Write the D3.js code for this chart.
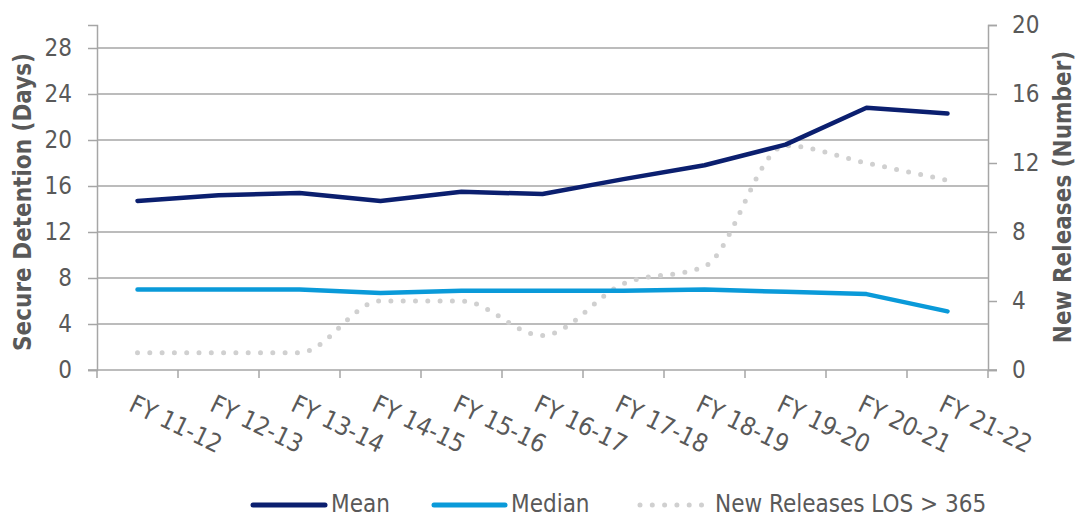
<!DOCTYPE html>
<html>
<head>
<meta charset="utf-8">
<script src="https://cdn.jsdelivr.net/npm/d3@7"></script>
<style>
  body { margin: 0; background: #fff; }
  svg text { font-family: "DejaVu Sans Condensed", "DejaVu Sans", sans-serif; font-stretch: condensed; fill: #595959; }
</style>
</head>
<body>
<svg id="chart" width="1078" height="517"></svg>
<script>
// fiscal years on the x axis
const categories = ["FY 11-12", "FY 12-13", "FY 13-14", "FY 14-15", "FY 15-16", "FY 16-17",
                    "FY 17-18", "FY 18-19", "FY 19-20", "FY 20-21", "FY 21-22"];
// secure detention length of stay (days), left axis
const meanDays = [14.7, 15.2, 15.4, 14.7, 15.5, 15.3, 16.6, 17.8, 19.6, 22.8, 22.3];
const medianDays = [7.0, 7.0, 7.0, 6.7, 6.9, 6.9, 6.9, 7.0, 6.8, 6.6, 5.1];
// new releases with LOS > 365 (number), right axis
const newReleases = [1, 1, 1, 4, 4, 2, 5, 6, 13, 12, 11];

const leftTicks = [0, 4, 8, 12, 16, 20, 24, 28];
const rightTicks = [0, 4, 8, 12, 16, 20];
const seriesNames = ["Mean", "Median", "New Releases LOS > 365"];

const svg = d3.select("#chart");
const plot = { left: 97, right: 988, top: 25, bottom: 370 };
const gridColor = "#a6a6a6";
const colors = { mean: "#0b1f6f", median: "#0a9ad9", releases: "#d0d0d0" };

const x = d3.scaleBand()
    .domain(categories)
    .range([plot.left, plot.right]);

const yLeft = d3.scaleLinear().domain([0, 30]).range([plot.bottom, plot.top]);
const yRight = d3.scaleLinear().domain([0, 20]).range([plot.bottom, plot.top]);

// horizontal gridlines
svg.append("g")
    .selectAll("line")
    .data(leftTicks.filter(d => d > 0))
    .enter().append("line")
    .attr("x1", plot.left).attr("x2", plot.right)
    .attr("y1", d => yLeft(d)).attr("y2", d => yLeft(d))
    .attr("stroke", gridColor)
    .attr("stroke-width", 1.5);

// left axis
const leftAxis = svg.append("g")
    .attr("transform", `translate(${plot.left},0)`)
    .call(d3.axisLeft(yLeft).tickValues(leftTicks).tickSize(9).tickPadding(16));

// right axis
const rightAxis = svg.append("g")
    .attr("transform", `translate(${plot.right},0)`)
    .call(d3.axisRight(yRight).tickValues(rightTicks).tickSize(9).tickPadding(15));

[leftAxis, rightAxis].forEach(g => {
    g.select(".domain").attr("stroke", gridColor).attr("stroke-width", 1.5);
    g.selectAll(".tick line").attr("stroke", gridColor).attr("stroke-width", 1.5);
    g.selectAll(".tick text")
        .style("font-size", "24px")
        .attr("fill", "#595959");
});

// x axis baseline with ticks between categories
const boundaries = categories.map(c => x(c)).concat([plot.right]);
svg.append("line")
    .attr("x1", plot.left - 9).attr("x2", plot.right + 9)
    .attr("y1", plot.bottom).attr("y2", plot.bottom)
    .attr("stroke", gridColor).attr("stroke-width", 1.5);
svg.append("g")
    .selectAll("line")
    .data(boundaries)
    .enter().append("line")
    .attr("x1", d => d).attr("x2", d => d)
    .attr("y1", plot.bottom).attr("y2", plot.bottom + 8)
    .attr("stroke", gridColor).attr("stroke-width", 1.5);

// rotated category labels
svg.append("g")
    .selectAll("text")
    .data(categories)
    .enter().append("text")
    .attr("transform", d => `translate(${x(d) + x.bandwidth() / 2 - 10},${plot.bottom + 40}) rotate(26)`)
    .attr("text-anchor", "start")
    .style("font-size", "25px")
    .text(d => d);

// axis titles
svg.append("text")
    .attr("transform", "translate(31,202) rotate(-90)")
    .attr("text-anchor", "middle")
    .style("font-size", "24px")
    .style("font-weight", "bold")
    .text("Secure Detention (Days)");

svg.append("text")
    .attr("transform", "translate(1071,197) rotate(-90)")
    .attr("text-anchor", "middle")
    .style("font-size", "24px")
    .style("font-weight", "bold")
    .text("New Releases (Number)");

const cx = d => x(d) + x.bandwidth() / 2;

// new releases (smoothed dotted line, right axis)
const releaseLine = d3.line()
    .x((d, i) => cx(categories[i]))
    .y(d => yRight(d))
    .curve(d3.curveMonotoneX);

svg.append("path")
    .datum(newReleases)
    .attr("d", releaseLine)
    .attr("fill", "none")
    .attr("stroke", colors.releases)
    .attr("stroke-width", 5)
    .attr("stroke-linecap", "round")
    .attr("stroke-dasharray", "0 12.3");

const leftLine = d3.line()
    .x((d, i) => cx(categories[i]))
    .y(d => yLeft(d));

svg.append("path")
    .datum(medianDays)
    .attr("d", leftLine)
    .attr("fill", "none")
    .attr("stroke", colors.median)
    .attr("stroke-width", 4.5)
    .attr("stroke-linecap", "round")
    .attr("stroke-linejoin", "round");

svg.append("path")
    .datum(meanDays)
    .attr("d", leftLine)
    .attr("fill", "none")
    .attr("stroke", colors.mean)
    .attr("stroke-width", 4.5)
    .attr("stroke-linecap", "round")
    .attr("stroke-linejoin", "round");

// legend
const legendItems = [
    { name: seriesNames[0], color: colors.mean, x0: 253, x1: 325, tx: 331, dash: null },
    { name: seriesNames[1], color: colors.median, x0: 434, x1: 505, tx: 511, dash: null },
    { name: seriesNames[2], color: colors.releases, x0: 640, x1: 703, tx: 715, dash: "0 12.3" }
];
const legendY = 505;
const legend = svg.append("g")
    .selectAll("g")
    .data(legendItems)
    .enter().append("g");

legend.append("line")
    .attr("x1", d => d.x0).attr("x2", d => d.x1)
    .attr("y1", legendY).attr("y2", legendY)
    .attr("stroke", d => d.color)
    .attr("stroke-width", 5)
    .attr("stroke-linecap", "round")
    .attr("stroke-dasharray", d => d.dash);

legend.append("text")
    .attr("x", d => d.tx)
    .attr("y", legendY + 7)
    .style("font-size", "24px")
    .text(d => d.name);
</script>
</body>
</html>
